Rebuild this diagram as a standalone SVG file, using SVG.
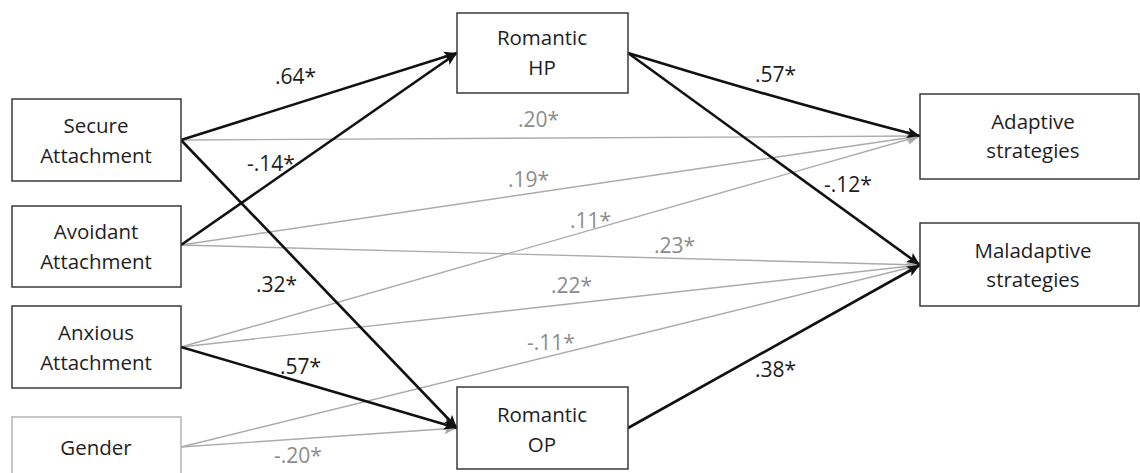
<svg xmlns="http://www.w3.org/2000/svg" width="1140" height="473" viewBox="0 0 1140 473">
<style>
.box{fill:#fff;stroke:#3a3a3a;stroke-width:1.5}
.boxg{fill:#fff;stroke:#b4b4b4;stroke-width:1.5}
.t{font-family:"Open Sans","Liberation Sans",sans-serif;font-size:20.5px;fill:#1e1e1e;text-anchor:middle}
.lb{font-family:"Open Sans","Liberation Sans",sans-serif;font-size:21px;fill:#1e1e1e}
.lg{font-family:"Open Sans","Liberation Sans",sans-serif;font-size:21px;fill:#8c8c8c}
.ck{fill:none;stroke:#111;stroke-width:2.6;marker-end:url(#ab)}
.cg{fill:none;stroke:#ababab;stroke-width:1.4;marker-end:url(#ag)}
</style>
<defs>
<marker id="ab" markerUnits="userSpaceOnUse" markerWidth="13" markerHeight="11" refX="13" refY="5.5" orient="auto"><path d="M0,0 L13,5.5 L0,11 L3,5.5 z" fill="#111"/></marker>
<marker id="ag" markerUnits="userSpaceOnUse" markerWidth="13" markerHeight="11" refX="13" refY="5.5" orient="auto"><path d="M0,0 L13,5.5 L0,11 L3,5.5 z" fill="#a8a8a8"/></marker>
</defs>
<rect width="1140" height="473" fill="#fff"/>
<g id="connectors">
<path class="cg" d="M181,140 L920,136"/>
<path class="cg" d="M181,245 L920,136"/>
<path class="cg" d="M181,245 L920,265"/>
<path class="cg" d="M181,347 L920,136"/>
<path class="cg" d="M181,347 L920,265"/>
<path class="cg" d="M181,447 L920,265"/>
<path class="cg" d="M181,447 L457,428"/>
<path class="ck" d="M181,140 Q320,96 457,53"/>
<path class="ck" d="M181,245 L457,53"/>
<path class="ck" d="M181,140 L457,428"/>
<path class="ck" d="M181,347 L457,428"/>
<path class="ck" d="M628,53 Q780,100 920,136"/>
<path class="ck" d="M628,53 L920,265"/>
<path class="ck" d="M628,428 L920,265"/>
<g id="labels">
<text class="lb" x="275" y="84">.64*</text>
<text class="lb" x="247" y="171">-.14*</text>
<text class="lb" x="256" y="292">.32*</text>
<text class="lb" x="280" y="374">.57*</text>
<text class="lb" x="755" y="82">.57*</text>
<text class="lb" x="824" y="192">-.12*</text>
<text class="lb" x="755" y="377">.38*</text>
<text class="lg" x="518" y="127">.20*</text>
<text class="lg" x="508" y="187">.19*</text>
<text class="lg" x="570" y="228">.11*</text>
<text class="lg" x="654" y="253">.23*</text>
<text class="lg" x="551" y="293">.22*</text>
<text class="lg" x="527" y="350">-.11*</text>
<text class="lg" x="274" y="463">-.20*</text>
</g>
</g>
<g id="secure"><rect class="box" x="12" y="99" width="169" height="82"/><text class="t" x="96" y="133">Secure</text><text class="t" x="96" y="163">Attachment</text></g>
<g id="avoidant"><rect class="box" x="12" y="206" width="169" height="81"/><text class="t" x="96" y="239">Avoidant</text><text class="t" x="96" y="269">Attachment</text></g>
<g id="anxious"><rect class="box" x="12" y="306" width="169" height="82"/><text class="t" x="96" y="340">Anxious</text><text class="t" x="96" y="370">Attachment</text></g>
<g id="gender"><rect class="boxg" x="12" y="417" width="169" height="64"/><text class="t" x="96" y="455">Gender</text></g>
<g id="hp"><rect class="box" x="457" y="13" width="171" height="80"/><text class="t" x="542" y="45">Romantic</text><text class="t" x="542" y="75">HP</text></g>
<g id="op"><rect class="box" x="457" y="387" width="171" height="82"/><text class="t" x="542" y="422">Romantic</text><text class="t" x="542" y="452">OP</text></g>
<g id="adaptive"><rect class="box" x="920" y="94" width="219" height="85"/><text class="t" x="1033" y="129">Adaptive</text><text class="t" x="1033" y="158">strategies</text></g>
<g id="maladaptive"><rect class="box" x="920" y="223" width="219" height="83"/><text class="t" x="1033" y="258">Maladaptive</text><text class="t" x="1033" y="287">strategies</text></g>
</svg>
